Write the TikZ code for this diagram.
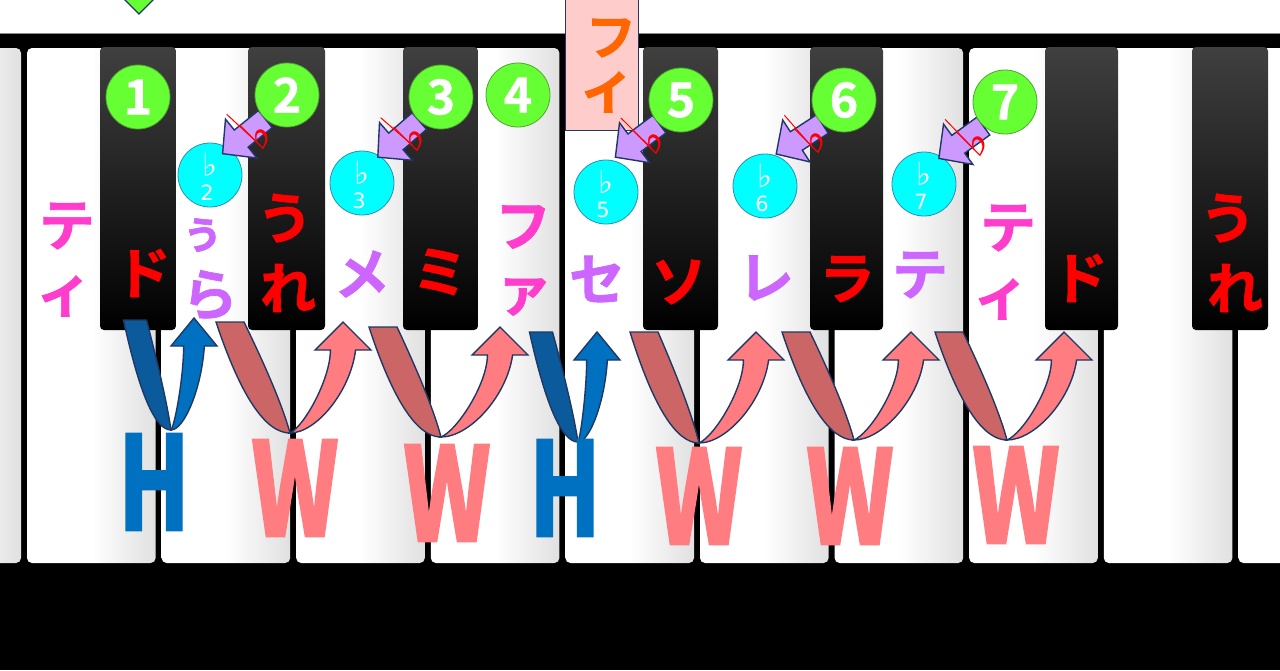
\documentclass[tikz,border=0pt]{standalone}
\usepackage{fontspec}
\newfontfamily\jpfont{Noto Sans CJK JP Bold}[FakeBold=1.2]
\newfontfamily\stepfont{Noto Sans CJK JP Bold}[FakeBold=3]
\newfontfamily\symfont{DejaVu Sans}

\definecolor{numgreen}{HTML}{66FF33}
\definecolor{numedge}{HTML}{4EA72E}
\definecolor{flatcyan}{HTML}{00FFFF}
\definecolor{flatedge}{HTML}{2F8FAA}
\definecolor{navyedge}{HTML}{1F3864}
\definecolor{arrowlilac}{HTML}{CC99FF}
\definecolor{boxpink}{HTML}{FFCCCC}
\definecolor{txtred}{HTML}{FF0000}
\definecolor{txtmagenta}{HTML}{FF3DCC}
\definecolor{txtpurple}{HTML}{CC66FF}
\definecolor{txtorange}{HTML}{FF6600}
\definecolor{hdark}{HTML}{0B5A9C}
\definecolor{hlight}{HTML}{0070C0}
\definecolor{wdark}{HTML}{CC6666}
\definecolor{wlight}{HTML}{FF7C80}

\pgfdeclarelayer{front}
\pgfsetlayers{main,front}

\tikzset{
  whitekey/.style={left color=white, right color=black!12, middle color=white, rounded corners=5pt},
  blackkey/.style={top color=black!75, bottom color=black, rounded corners=4pt},
  edge/.style={draw=navyedge, line width=1.4pt},
  numdot/.style={circle, fill=numgreen, draw=numedge, line width=0.8pt, minimum size=64pt,
    inner sep=0pt, text=white, font=\jpfont\fontsize{48}{48}\selectfont},
  flatdot/.style={circle, fill=flatcyan, draw=flatedge, line width=0.8pt, minimum size=64pt, inner sep=0pt},
  flatsign/.style={inner sep=0pt, text=white, font=\symfont\fontsize{32}{32}\selectfont},
  flatnum/.style={inner sep=0pt, text=white, font=\symfont\fontsize{21}{21}\selectfont},
  kana/.style={inner sep=0pt, font=\jpfont\fontsize{56}{56}\selectfont},
  stepletter/.style={inner sep=0pt, xscale=0.74, font=\stepfont\fontsize{128}{128}\selectfont},
}

% lilac arrow from a number to its flat
\newcommand\flatarrow[2]{%
  \begin{scope}[shift={(#1.228)}, rotate=#2]
    \filldraw[fill=arrowlilac, edge] (0,-11) -- (31,-11) -- (31,-25) -- (55,0) -- (31,25) -- (31,11) -- (0,11) -- cycle;
    \draw[txtred, line width=1pt] (27,28) -- (21,-14);
    \node[txtred, inner sep=0pt, rotate=45, font=\symfont\fontsize{46}{46}\selectfont] at (16,-5) {♭};
  \end{scope}}

% U-turn step arrow: xL, yTop, xBottom, yBottom, xTip, yTip, arm half width, colour prefix
\newcommand\stepcurve[8]{%
  \pgfmathsetmacro\outa{#1-#7}
  \pgfmathsetmacro\ina{#1+#7}
  \pgfmathsetmacro\oa{\outa+(#3-\outa)/3}
  \pgfmathsetmacro\ob{#2+2*(#4-#2)/3}
  \pgfmathsetmacro\oc{#3-(#3-\outa)/3}
  \pgfmathsetmacro\ia{#3-0.2*(#3-\ina)}
  \pgfmathsetmacro\ib{#4-0.3*(#4-#2)}
  \pgfmathsetmacro\ic{\ina+0.35*(#3-\ina)}
  \pgfmathsetmacro\id{#2+0.3*(#4-#2)}
  \pgfmathsetmacro\shaft{0.9*#7}
  \pgfmathsetmacro\head{2*#7}
  \pgfmathsetmacro\base{#6+28}
  \pgfmathsetmacro\rout{#5+\shaft}
  \pgfmathsetmacro\rin{#5-\shaft}
  \pgfmathsetmacro\hr{#5+\head}
  \pgfmathsetmacro\hl{#5-\head}
  \pgfmathsetmacro\la{#3+0.4*(\rout-#3)}
  \pgfmathsetmacro\lb{\rout-0.08*(\rout-#3)}
  \pgfmathsetmacro\lc{\base+0.5*(#4-\base)}
  \pgfmathsetmacro\ld{\base+0.35*(#4-\base)}
  \pgfmathsetmacro\le{#3+0.35*(\rin-#3)}
  \pgfmathsetmacro\lf{#4-0.08*(#4-\base)}
  \filldraw[fill=#8dark, edge] (\outa,#2) .. controls (\oa,\ob) and (\oc,#4) .. (#3,#4)
    .. controls (\ia,\ib) and (\ic,\id) .. (\ina,#2) -- cycle;
  \filldraw[fill=#8light, edge] (#3,#4) .. controls (\la,#4) and (\lb,\lc) .. (\rout,\base)
    -- (\hr,\base) -- (#5,#6) -- (\hl,\base) -- (\rin,\base)
    .. controls (\rin,\ld) and (\le,\lf) .. (#3,#4) -- cycle;
}

\begin{document}
\begin{tikzpicture}[x=1pt, y=-1pt]
  \useasboundingbox (0,0) rectangle (1280,670);
  \clip (0,0) rectangle (1280,670);

  % keyboard
  \fill[black] (0,33) rectangle (1280,670);
  \draw[black!45, line width=1pt] (0,33) -- (1280,33);
  \foreach \k in {-1,...,9} {
    \pgfmathsetmacro\xa{27+134.6*\k}
    \pgfmathsetmacro\xb{21+134.6*(\k+1)}
    \shade[whitekey] (\xa,48) rectangle (\xb,563);
  }
  \foreach \xa/\xb in {100/176, 248/325, 403/478, 643/718, 810/883, 1045/1118, 1192/1268}
    \shade[blackkey] (\xa,47) rectangle (\xb,330);

  % marker and fi box
  \filldraw[fill=numgreen, edge] (139,-20) -- (156,-3) -- (139,14) -- (122,-3) -- cycle;
  \node[draw=navyedge, line width=1pt, fill=boxpink, minimum width=73pt, minimum height=140pt, inner sep=0pt] (fibox) at (601.5,60) {};
  \node[kana, text=txtorange, font=\jpfont\fontsize{50}{50}\selectfont] (fi1) at (611,38) {フ};
  \node[kana, text=txtorange] (fi2) at (607,92) {ィ};

  % flats
  \foreach \n/\x/\y in {2/210/175, 3/362/183, 5/606/192, 6/765/186, 7/924/184} {
    \node[flatdot] (f\n) at (\x,\y) {};
    \node[flatsign] (fs\n) at ([yshift=10pt]f\n) {♭};
    \node[flatnum] (fn\n) at ([yshift=-18pt,xshift=-3pt]f\n) {\n};
  }

  % scale degrees
  \begin{pgfonlayer}{front}
    \foreach \n/\x/\y in {1/138/97, 2/287/95, 3/441/97, 4/518/95, 5/681/100, 6/844/100, 7/1005/102}
      \node[numdot] (n\n) at (\x,\y) {\n};
  \end{pgfonlayer}

  \flatarrow{n2}{219}
  \flatarrow{n3}{221}
  \flatarrow{n5}{217}
  \flatarrow{n6}{213}
  \flatarrow{n7}{216}

  % syllables
  \node[kana, text=txtmagenta] (ti1) at (67,226) {テ};
  \node[kana, text=txtmagenta] (ti2) at (64,296) {ィ};
  \node[kana, text=txtred] (do1) at (143,273) {ド};
  \node[kana, text=txtpurple, font=\jpfont\fontsize{46}{46}\selectfont] (ra1) at (202,235) {ぅ};
  \node[kana, text=txtpurple] (ra2) at (210,295) {ら};
  \node[kana, text=txtred] (re1) at (285,218) {う};
  \node[kana, text=txtred] (re2) at (288,288) {れ};
  \node[kana, text=txtpurple] (me) at (362,274) {メ};
  \node[kana, text=txtred] (mi) at (440,272) {ミ};
  \node[kana, text=txtmagenta] (fa1) at (523,227) {フ};
  \node[kana, text=txtmagenta] (fa2) at (524,297) {ァ};
  \node[kana, text=txtpurple] (se) at (597,279) {セ};
  \node[kana, text=txtred] (so) at (679,282) {ソ};
  \node[kana, text=txtpurple] (le) at (766,278) {レ};
  \node[kana, text=txtred] (la) at (847,279) {ラ};
  \node[kana, text=txtpurple] (te) at (920,275) {テ};
  \node[kana, text=txtmagenta] (ti3) at (1008,228) {テ};
  \node[kana, text=txtmagenta] (ti4) at (1001,299) {ィ};
  \node[kana, text=txtred] (do2) at (1080,278) {ド};
  \node[kana, text=txtred] (re3) at (1228,218) {う};
  \node[kana, text=txtred] (re4) at (1235,288) {れ};

  % steps
  \stepcurve{135}{320}{171}{430}{194}{318}{11.5}{h}
  \stepcurve{230}{322}{290}{433}{343}{322}{14}{w}
  \stepcurve{383}{327}{441}{437}{500}{327}{14}{w}
  \stepcurve{541}{332}{578}{442}{597}{332}{11.5}{h}
  \stepcurve{644}{332}{699}{443}{756}{332}{14}{w}
  \stepcurve{796}{332}{854}{440}{911}{332}{14}{w}
  \stepcurve{949}{332}{1007}{440}{1064}{332}{14}{w}

  \node[stepletter, text=hlight] (h1) at (154,482) {H};
  \node[stepletter, text=wlight] (w1) at (295,488) {W};
  \node[stepletter, text=wlight] (w2) at (447,493) {W};
  \node[stepletter, text=hlight] (h2) at (565,488) {H};
  \node[stepletter, text=wlight] (w3) at (699,496) {W};
  \node[stepletter, text=wlight] (w4) at (850,496) {W};
  \node[stepletter, text=wlight] (w5) at (1016,495) {W};
\end{tikzpicture}
\end{document}
